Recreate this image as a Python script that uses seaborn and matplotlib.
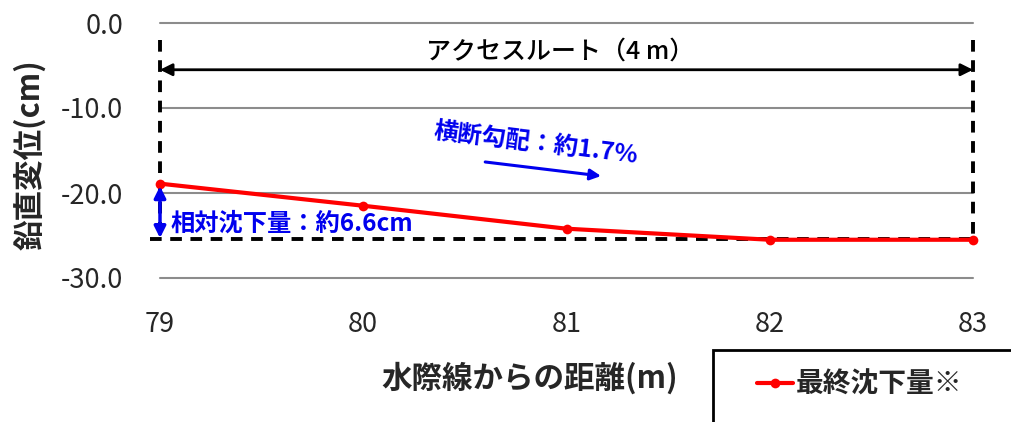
import matplotlib
matplotlib.use("Agg")
import matplotlib.pyplot as plt
import seaborn as sns
import pandas as pd
from matplotlib.patches import Rectangle

distance = [79, 80, 81, 82, 83]
settlement = [-18.9, -21.5, -24.2, -25.5, -25.5]
y_ticks = [0, -10, -20, -30]
series_label = "最終沈下量※"
x_label = "水際線からの距離(m)"
y_label = "鉛直変位(cm)"
route_text = "アクセスルート（4 m）"
slope_text = "横断勾配：約1.7%"
rel_text = "相対沈下量：約6.6cm"
base_level = -25.4
top_level = -2.0
route_y = -5.5

sns.set_theme(style="white")
plt.rcParams['font.family'] = ['Noto Sans CJK JP', 'DejaVu Sans']

fig = plt.figure(figsize=(10.11, 4.22), dpi=100)
ax = fig.add_axes([160/1011, 1-278/422, (973-160)/1011, (278-23)/422])

df = pd.DataFrame({"x": distance, "y": settlement})

for t in y_ticks:
    ax.axhline(t, color="#8c8c8c", lw=1.5, zorder=0, clip_on=False)

# dashed frame
dash = (0, (3, 2.2))
ax.plot([79, 79], [top_level, base_level], ls=dash, color="black", lw=2.8, clip_on=False, zorder=2)
ax.plot([83, 83], [top_level, base_level], ls=dash, color="black", lw=2.8, clip_on=False, zorder=2)
ax.plot([78.95, 83], [base_level, base_level], ls=dash, color="black", lw=2.8, clip_on=False, zorder=2)

sns.lineplot(data=df, x="x", y="y", ax=ax, color="#ff0000", lw=3, marker="o",
             markersize=7, markeredgewidth=0, label=series_label, zorder=3, clip_on=False)

# route arrow
ax.annotate("", xy=(83, route_y), xytext=(79, route_y),
            arrowprops=dict(arrowstyle="<|-|>", color="black", lw=2, mutation_scale=18,
                            shrinkA=0, shrinkB=0))
ax.text(80.97, -3.4, route_text, ha="center", va="center", fontsize=18, color="black",
        fontweight="medium")

# slope annotation
ax.text(80.85, -14.3, slope_text, ha="center", va="center", fontsize=17.5,
        color="#0000ee", fontweight="bold", rotation=-7)
ax.annotate("", xy=(81.17, -18.0), xytext=(80.6, -16.35),
            arrowprops=dict(arrowstyle="-|>", color="#0000ee", lw=2.2, mutation_scale=16,
                            shrinkA=0, shrinkB=0))

# relative settlement
ax.annotate("", xy=(79, base_level + 0.1), xytext=(79, -19.2),
            arrowprops=dict(arrowstyle="<|-|>", color="#0000ee", lw=2.5, mutation_scale=17,
                            shrinkA=0, shrinkB=0))
ax.text(79.05, -23.6, rel_text, ha="left", va="center", fontsize=17.5,
        color="#0000ee", fontweight="bold")

ax.set_xlim(79, 83)
ax.set_ylim(-30, 0)
ax.set_xticks(distance)
ax.set_xticklabels([str(d) for d in distance], fontsize=19.5)
ax.set_yticks(y_ticks)
ax.set_yticklabels([f"{t:.1f}" for t in y_ticks], fontsize=19.5)
ax.tick_params(axis="x", pad=24, length=0)
ax.tick_params(axis="y", pad=26.5, length=0)
for s in ax.spines.values():
    s.set_visible(False)
ax.set_xlabel("")
ax.set_ylabel("")
fig.text(30/1011, 1-155/422, y_label, rotation=90, ha="center", va="center",
         fontsize=22, fontweight="bold")
fig.text(530/1011, 1-378/422, x_label, ha="center", va="center",
         fontsize=22, fontweight="bold")

ax.legend_.remove()
handles, labels = ax.get_legend_handles_labels()
fig.patches.append(Rectangle((713/1011, -0.1), 0.4, 1-350/422 + 0.1, transform=fig.transFigure,
                             fill=False, edgecolor="black", lw=2))
leg = fig.legend(handles, labels, loc="center left", bbox_to_anchor=(732/1011, 1-385/422),
                 frameon=False, handlelength=1.3, handletextpad=0.1,
                 prop={'weight': 'bold', 'size': 20})

fig.savefig("out.png", dpi=100)
